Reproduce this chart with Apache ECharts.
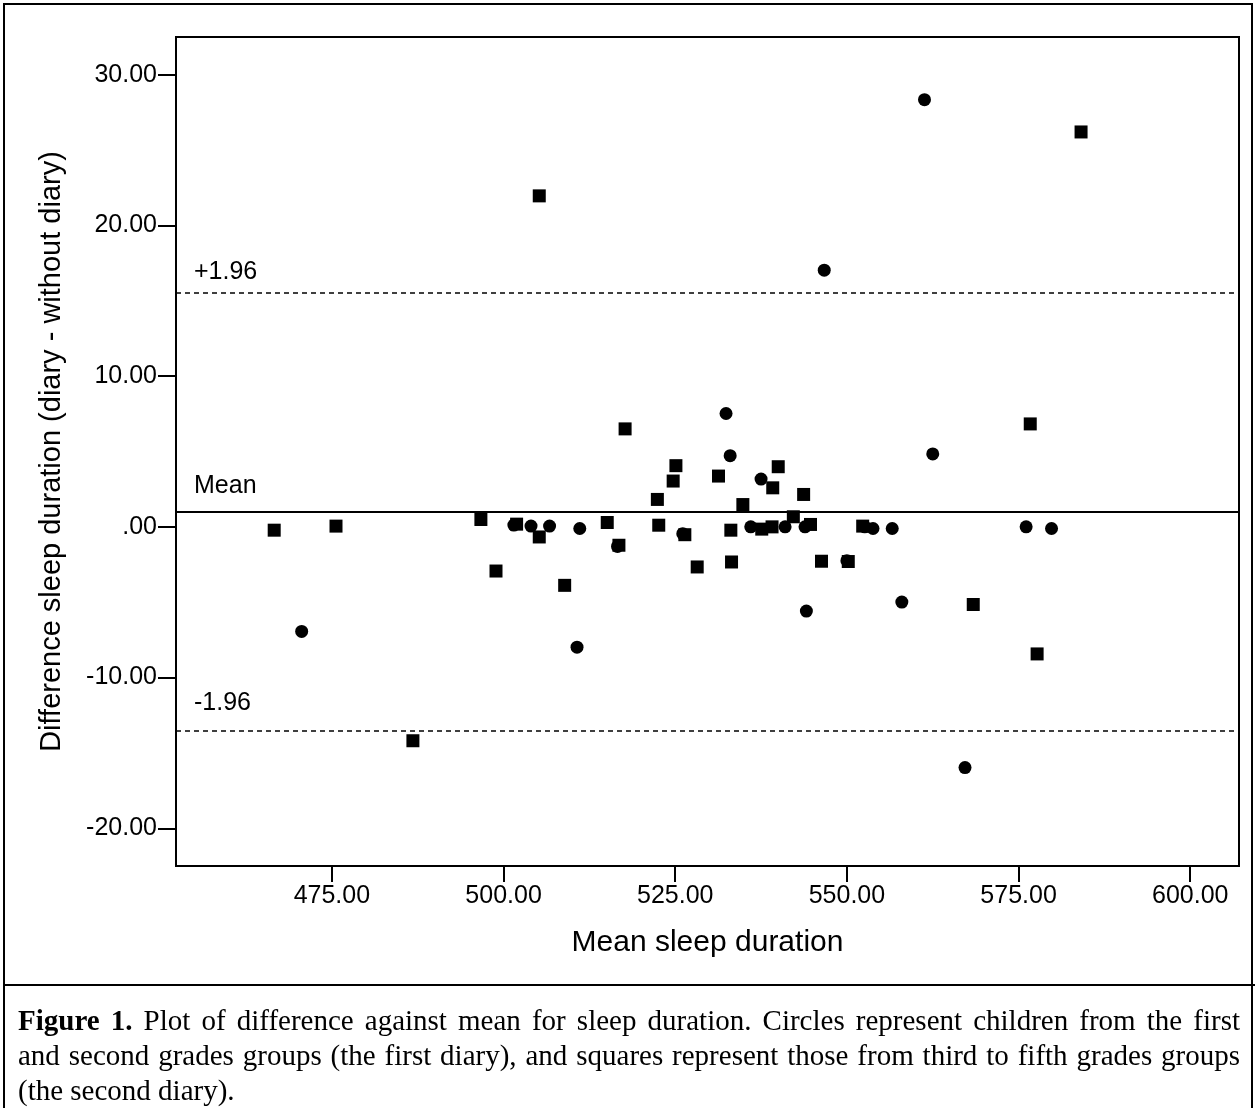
<!DOCTYPE html>
<html>
<head>
<meta charset="utf-8">
<script src="https://cdn.jsdelivr.net/npm/echarts@6/dist/echarts.min.js"></script>
<style>
  html, body { margin: 0; padding: 0; background: #fff; }
  #wrap { position: relative; width: 1258px; height: 1108px; overflow: hidden; }
  #main { position: absolute; left: 0; top: 0; width: 1258px; height: 1108px; }
  #frame { position: absolute; left: 3px; top: 3px; width: 1250px; height: 1120px;
           border: 2px solid #000; box-sizing: border-box; pointer-events: none; }
  #rule { position: absolute; left: 3px; top: 984px; width: 1252px; height: 0;
          border-top: 2px solid #000; }
  #caption { position: absolute; left: 18px; top: 1003px; width: 1222px;
             font-family: "Liberation Serif", "Times New Roman", serif; font-size: 29px;
             line-height: 35px; color: #000; }
  #caption .j { display: block; text-align: justify; text-align-last: justify; white-space: nowrap; }
  #caption .l { display: block; }
</style>
</head>
<body>
<div id="wrap">
  <div id="main"></div>
  <div id="frame"></div>
  <div id="rule"></div>
  <div id="caption"><span class="j"><b>Figure 1.</b> Plot of difference against mean for sleep duration. Circles represent children from the first</span><span class="j">and second grades groups (the first diary), and squares represent those from third to fifth grades groups</span><span class="l">(the second diary).</span></div>
</div>
<script>
// first diary (grades 1-2): circles
var circleMean = [470.6, 501.5, 504.0, 506.7, 510.7, 511.1, 516.6, 526.1, 532.4, 533.0, 536.0, 537.5,
                  541.0, 543.9, 544.1, 546.7, 550.0, 552.6, 553.8, 556.6, 558.0, 561.3, 562.5, 567.2,
                  576.1, 579.8];
var circleDiff = [-6.94, 0.12, 0.05, 0.05, -7.98, -0.11, -1.30, -0.45, 7.52, 4.72, 0.0, 3.17,
                  0.0, 0.0, -5.59, 17.03, -2.24, 0.0, -0.11, -0.11, -4.99, 28.34, 4.84, -15.97,
                  0.0, -0.11];
// second diary (grades 3-5): squares
var squareMean = [466.6, 475.6, 486.8, 496.7, 498.9, 501.9, 505.2, 505.2, 508.9, 515.1, 516.8, 517.7,
                  522.4, 522.6, 524.7, 525.1, 526.4, 528.2, 531.3, 533.1, 533.2, 534.85, 537.6, 539.1,
                  539.2, 540.0, 542.2, 543.7, 544.7, 546.3, 550.2, 552.3, 568.4, 576.7, 577.7, 584.1];
var squareDiff = [-0.22, 0.05, -14.19, 0.49, -2.93, 0.18, -0.67, 21.96, -3.88, 0.29, -1.22, 6.5,
                  1.82, 0.11, 3.04, 4.06, -0.52, -2.66, 3.37, -0.22, -2.33, 1.48, -0.15, 0.0,
                  2.59, 3.99, 0.67, 2.15, 0.16, -2.28, -2.30, 0.05, -5.15, 6.83, -8.43, 26.2];
// reference lines: mean difference and +/-1.96 SD
var refValues = [15.5, 1.0, -13.55];
var refLabels = ['+1.96', 'Mean', '-1.96'];
var xTicks = [475, 500, 525, 550, 575, 600];
var yTicks = [-20, -10, 0, 10, 20, 30];

function pairs(xs, ys) {
    var out = [];
    for (var i = 0; i < xs.length; i++) out.push([xs[i], ys[i]]);
    return out;
}

var myChart = echarts.init(document.getElementById('main'));
var font = '"Liberation Sans", Arial, sans-serif';
var option = {
    backgroundColor: '#fff',
    animation: false,
    grid: {
        left: 176,
        right: 19,
        top: 37,
        bottom: 242,
        show: true,
        borderColor: '#000',
        borderWidth: 2
    },
    xAxis: {
        type: 'value',
        min: 452.3,
        max: 607.1,
        name: 'Mean sleep duration',
        nameLocation: 'middle',
        nameGap: 62,
        nameTextStyle: { color: '#000', fontFamily: font, fontSize: 30 },
        axisLine: { show: true, onZero: false, lineStyle: { color: '#000', width: 2 } },
        axisTick: { show: true, length: 16, customValues: xTicks, lineStyle: { color: '#000', width: 2 } },
        axisLabel: {
            customValues: xTicks,
            margin: 18,
            color: '#000',
            fontFamily: font,
            fontSize: 25,
            formatter: function (v) { return v.toFixed(2); }
        },
        splitLine: { show: false }
    },
    yAxis: {
        type: 'value',
        min: -22.5,
        max: 32.5,
        name: 'Difference sleep duration (diary - without diary)',
        nameLocation: 'middle',
        nameGap: 110,
        nameTextStyle: { color: '#000', fontFamily: font, fontSize: 29 },
        axisLine: { show: true, onZero: false, lineStyle: { color: '#000', width: 2 } },
        axisTick: { show: true, length: 18, customValues: yTicks, lineStyle: { color: '#000', width: 2 } },
        axisLabel: {
            customValues: yTicks,
            margin: 19,
            color: '#000',
            fontFamily: font,
            fontSize: 25,
            formatter: function (v) { return v === 0 ? '.00' : v.toFixed(2); }
        },
        splitLine: { show: false }
    },
    series: [
        {
            type: 'scatter',
            name: 'first diary',
            symbol: 'circle',
            symbolSize: 13,
            itemStyle: { color: '#000', opacity: 1 },
            data: pairs(circleMean, circleDiff),
            markLine: {
                silent: true,
                symbol: 'none',
                animation: false,
                data: refValues.map(function (v, i) {
                    return {
                        yAxis: v,
                        lineStyle: { color: '#000', width: i === 1 ? 2 : 1.5, type: i === 1 ? 'solid' : [5, 4] },
                        label: {
                            show: true,
                            position: 'insideStartTop',
                            formatter: refLabels[i],
                            distance: [18, i === 2 ? 15 : (i === 1 ? 13 : 9)],
                            color: '#000',
                            fontFamily: font,
                            fontSize: 25
                        }
                    };
                })
            }
        },
        {
            type: 'scatter',
            name: 'second diary',
            symbol: 'rect',
            symbolSize: 13,
            itemStyle: { color: '#000', opacity: 1 },
            data: pairs(squareMean, squareDiff)
        }
    ]
};
myChart.setOption(option);
</script>
</body>
</html>
